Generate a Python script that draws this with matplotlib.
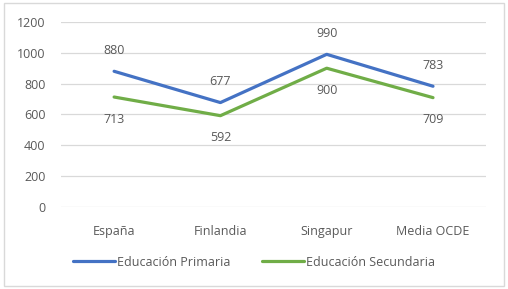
import matplotlib.pyplot as plt
from matplotlib.patches import Rectangle

categories = ["España", "Finlandia", "Singapur", "Media OCDE"]
primaria = [880, 677, 990, 783]
secundaria = [713, 592, 900, 709]
yticks = [0, 200, 400, 600, 800, 1000, 1200]

plt.rcParams['font.family'] = ['Open Sans', 'DejaVu Sans']
txt = '#595959'

fig = plt.figure(figsize=(5.08, 2.89), dpi=100)
ax = fig.add_axes([0.120, 0.284, 0.837, 0.640])

x = list(range(len(categories)))
ax.plot(x, primaria, color='#4472C4', lw=2.3, solid_capstyle='round',
        solid_joinstyle='round', label='Educación Primaria')
ax.plot(x, secundaria, color='#70AD47', lw=2.3, solid_capstyle='round',
        solid_joinstyle='round', label='Educación Secundaria')

for xi, v in zip(x, primaria):
    ax.annotate(str(v), (xi, v), xytext=(0, 15), textcoords='offset points',
                ha='center', va='center', fontsize=9, color=txt)
for xi, v in zip(x, secundaria):
    ax.annotate(str(v), (xi, v), xytext=(0, -16), textcoords='offset points',
                ha='center', va='center', fontsize=9, color=txt)

ax.set_xlim(-0.5, len(categories) - 0.5)
ax.set_ylim(0, 1200)
ax.set_yticks(yticks)
ax.set_xticks(x)
ax.set_xticklabels(categories)
ax.tick_params(length=0, labelsize=9, colors=txt)
ax.tick_params(axis='x', pad=13)
ax.tick_params(axis='y', pad=11)
ax.grid(axis='y', color='#D9D9D9', lw=0.9)
ax.set_axisbelow(True)
for s in ax.spines.values():
    s.set_visible(False)

leg = fig.legend(loc='center', bbox_to_anchor=(0.5, 0.093), ncol=2, frameon=False,
                 fontsize=9, handlelength=3.4, handletextpad=0.15, columnspacing=2.5)
for t in leg.get_texts():
    t.set_color(txt)

fig.patches.append(Rectangle((0.008, 0.012), 0.984, 0.978, transform=fig.transFigure,
                             fill=False, edgecolor='#D9D9D9', lw=1))

fig.savefig('out.png', dpi=100)
